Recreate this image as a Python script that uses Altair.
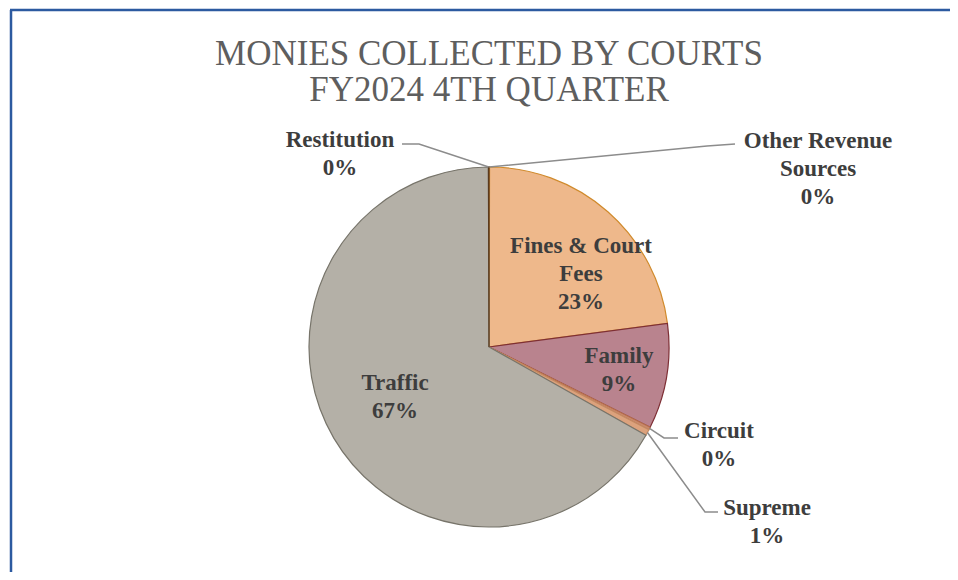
import math
import altair as alt
import pandas as pd

# ---- data ----
categories = ["Other Revenue Sources", "Fines & Court Fees", "Family", "Circuit",
              "Supreme", "Traffic", "Restitution"]
shares = [0.05, 22.85, 9.45, 0.25, 0.55, 66.8, 0.05]
pct_labels = ["0%", "23%", "9%", "0%", "1%", "67%", "0%"]
label_names = ["Other Revenue\nSources", "Fines & Court\nFees", "Family", "Circuit",
               "Supreme", "Traffic", "Restitution"]
title_lines = ["MONIES COLLECTED BY COURTS", "FY2024 4TH QUARTER"]

# ---- styles / layout ----
fills = ["#9fb0c8", "#eeb88b", "#b9838e", "#c98a6e", "#dca27d", "#b4b0a7", "#a9b98e"]
strokes = ["#5b3a1e", "#d08a2c", "#7e2f35", "#b8704e", "#c48a62", "#77746a", "#5b3a1e"]

W, H = 942, 564
CX, CY, R = 479, 339, 180
SERIF = "Liberation Serif, Times New Roman, serif"

# label first-line baseline positions (chart px)
label_pos = {
    "Other Revenue Sources": (808, 140),
    "Fines & Court Fees": (571, 245),
    "Family": (609, 355),
    "Circuit": (709, 430),
    "Supreme": (757, 507),
    "Traffic": (385, 382),
    "Restitution": (330, 139),
}
# leader elbows and ends (chart px) for outside labels
leaders = {
    "Restitution": [(409, 136), (392, 136)],
    "Other Revenue Sources": [(697, 138), (725, 136)],
    "Circuit": [(654, 430), (668, 430)],
    "Supreme": [(695, 504), (708, 504)],
}

df = pd.DataFrame({"cat": categories, "value": shares, "idx": list(range(len(categories)))})

pie = alt.Chart(df).mark_arc(radius=R, strokeWidth=1.2).encode(
    theta=alt.Theta("value:Q", stack=True),
    order=alt.Order("idx:Q"),
    color=alt.Color("cat:N", scale=alt.Scale(domain=categories, range=fills), legend=None),
    stroke=alt.Stroke("cat:N", scale=alt.Scale(domain=categories, range=strokes), legend=None),
    x=alt.value(CX),
    y=alt.value(CY),
)

# labels
lab_rows = []
for c, n, p in zip(categories, label_names, pct_labels):
    lx, ly = label_pos[c]
    lab_rows.append({"cat": c, "txt": n + "\n" + p, "lx": lx, "ly": ly})
labels = alt.Chart(pd.DataFrame(lab_rows)).mark_text(
    font=SERIF, fontSize=23, fontWeight="bold", color="#3d3d3d",
    align="center", baseline="alphabetic", lineBreak="\n", lineHeight=28,
).encode(
    x=alt.X("lx:Q", scale=None),
    y=alt.Y("ly:Q", scale=None),
    text="txt:N",
)

# leader lines: start point derived from each slice's mid angle
total = sum(shares)
cum = 0.0
line_rows = []
for c, v in zip(categories, shares):
    mid = (cum + v / 2) / total * 2 * math.pi
    cum += v
    if c in leaders:
        sx = CX + R * math.sin(mid)
        sy = CY - R * math.cos(mid)
        pts = [(sx, sy)] + leaders[c]
        for k, (px, py) in enumerate(pts):
            line_rows.append({"cat": c, "k": k, "lx": px, "ly": py})
lines = alt.Chart(pd.DataFrame(line_rows)).mark_line(color="#8c8c8c", strokeWidth=1.5).encode(
    x=alt.X("lx:Q", scale=None),
    y=alt.Y("ly:Q", scale=None),
    detail="cat:N",
    order="k:Q",
)

# title
title_df = pd.DataFrame({"t": title_lines, "lx": [CX, CX], "ly": [57, 93]})
title = alt.Chart(title_df).mark_text(
    font=SERIF, fontSize=35, color="#5e5e5e", align="center", baseline="alphabetic",
).encode(
    x=alt.X("lx:Q", scale=None),
    y=alt.Y("ly:Q", scale=None),
    text="t:N",
)

# frame
one = pd.DataFrame({"a": [0]})
frame_top = alt.Chart(one).mark_rule(color="#2c5aa0", strokeWidth=2.5).encode(
    x=alt.value(0), x2=alt.value(W), y=alt.value(2))
frame_left = alt.Chart(one).mark_rule(color="#2c5aa0", strokeWidth=2.5).encode(
    x=alt.value(1), y=alt.value(2), y2=alt.value(H))

chart = alt.layer(pie, lines, labels, title, frame_top, frame_left).properties(
    width=W, height=H,
    autosize=alt.AutoSizeParams(type="fit", contains="padding"),
    padding=0,
    background="white",
).configure_view(stroke=None)

chart.save("out.html", embed_options={"renderer": "svg", "actions": False})
